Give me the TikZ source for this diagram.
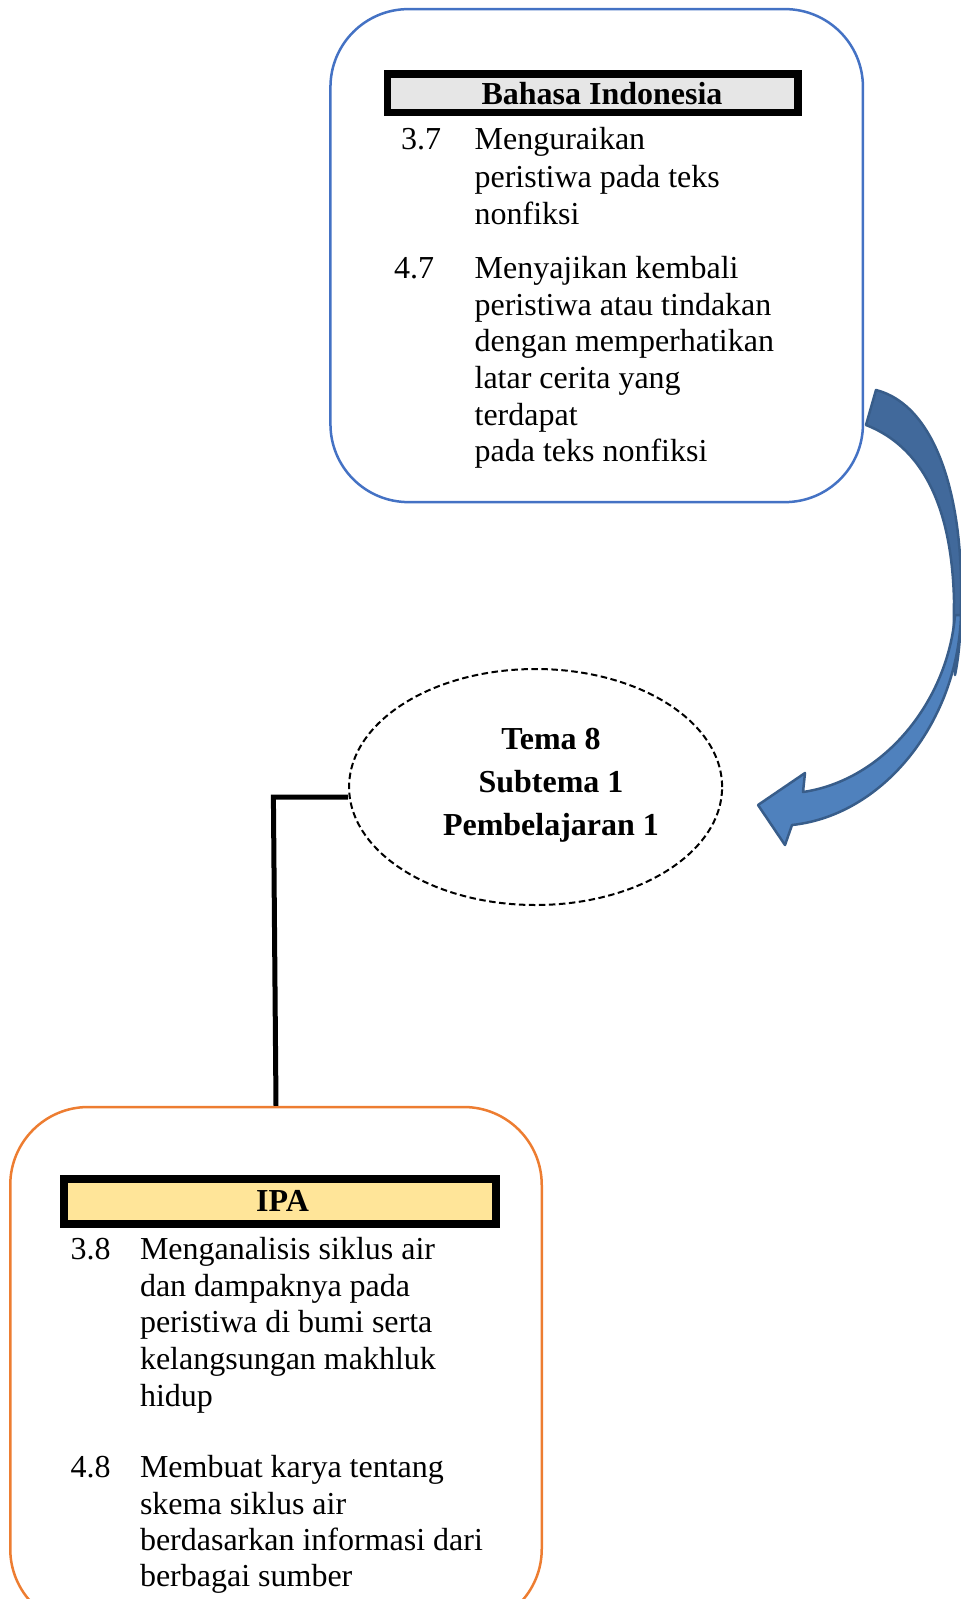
\documentclass[tikz,border=0pt]{standalone}
\usepackage{fontspec}
\setmainfont{Liberation Serif}
\usetikzlibrary{shapes.geometric}
\definecolor{bluebox}{HTML}{4472C4}
\definecolor{orangebox}{HTML}{ED7D31}
\definecolor{grayfill}{HTML}{E6E6E6}
\definecolor{yellowfill}{HTML}{FFE599}
\definecolor{arrowdark}{HTML}{41699B}
\definecolor{arrowlight}{HTML}{4F81BD}
\definecolor{arrowedge}{HTML}{385D8A}
\tikzset{
  subjbox/.style={draw, rounded corners=78pt, line width=2.5pt, inner sep=0pt},
  titlebar/.style={draw=black, line width=7.5pt, inner sep=0pt},
  body/.style={anchor=base west, inner sep=0pt, font=\fontsize{32}{37}\selectfont},
  bodytitle/.style={inner sep=0pt, font=\fontsize{32}{37}\selectfont\bfseries},
  joinline/.style={line width=5pt},
}
\begin{document}
\begin{tikzpicture}[x=1pt,y=-1pt]
\useasboundingbox (0,0) rectangle (961,1599);
\begin{scope}
\clip (0,0) rectangle (961,1599);

% Bahasa Indonesia box
\node[subjbox, draw=bluebox, minimum width=532.5pt, minimum height=493pt] (bi) at (596.7,255.6) {};
\path[titlebar, fill=grayfill] (387.3,74.1) rectangle (798.2,112.6);
\node[bodytitle] (bititle) at (602,94) {Bahasa Indonesia};
\node[body] (n37) at (401,149.9) {3.7};
\node[body] (b1) at (474.4,149.9) {Menguraikan};
\node[body] (b2) at (474.4,187.2) {peristiwa pada teks};
\node[body] (b3) at (474.4,224.4) {nonfiksi};
\node[body] (n47) at (394,278.5) {4.7};
\node[body] (b4) at (474.4,278.5) {Menyajikan kembali};
\node[body] (b5) at (474.4,315.2) {peristiwa atau tindakan};
\node[body] (b6) at (474.4,351.9) {dengan memperhatikan};
\node[body] (b7) at (474.4,388.7) {latar cerita yang};
\node[body] (b8) at (474.4,425.4) {terdapat};
\node[body] (b9) at (474.4,461.1) {pada teks nonfiksi};

% Curved arrow
\coordinate (tailtop) at (876,390);
\coordinate (tailbot) at (866,425);
\coordinate (tip) at (758,805);
\filldraw[fill=arrowdark, draw=arrowedge, line width=2.5pt, line join=round]
  (tailtop) .. controls (935,405) and (963,495) .. (961,600)
  .. controls (961,640) and (958,660) .. (955,675)
  .. controls (953,640) and (954,620) .. (954,600)
  .. controls (952,520) and (930,450) .. (tailbot) -- cycle;
\filldraw[fill=arrowlight, draw=arrowedge, line width=2.5pt, line join=round]
  (955,615) .. controls (948,700) and (885,780) .. (803,792)
  -- (805,773) -- (tip) -- (785,845) -- (792,825)
  .. controls (885,815) and (958,720) .. (961,615) -- cycle;

% Theme ellipse
\node[ellipse, draw, dashed, line width=2pt, dash pattern=on 6.5pt off 3.5pt,
      minimum width=373pt, minimum height=236pt, inner sep=0pt] (tema) at (535.6,787) {};
\node[bodytitle, align=center, font=\fontsize{32}{43}\selectfont\bfseries] (tematext) at (551,785.5)
  {Tema 8\\Subtema 1\\Pembelajaran 1};

% IPA box
\node[subjbox, draw=orangebox, minimum width=531.5pt, minimum height=520pt] (ipa) at (276,1367) {};
\path[titlebar, fill=yellowfill] (64.2,1179) rectangle (496,1224);
\node[bodytitle] (ipatitle) at (282.6,1201) {IPA};
\node[body] (n38) at (70.4,1259.4) {3.8};
\node[body] (c1) at (139.8,1259.4) {Menganalisis siklus air};
\node[body] (c2) at (139.8,1296.1) {dan dampaknya pada};
\node[body] (c3) at (139.8,1332.9) {peristiwa di bumi serta};
\node[body] (c4) at (139.8,1369.6) {kelangsungan makhluk};
\node[body] (c5) at (139.8,1406.3) {hidup};
\node[body] (n48) at (70.4,1477.7) {4.8};
\node[body] (c6) at (139.8,1477.7) {Membuat karya tentang};
\node[body] (c7) at (139.8,1514.4) {skema siklus air};
\node[body] (c8) at (139.8,1550.2) {berdasarkan informasi dari};
\node[body] (c9) at (139.8,1586.9) {berbagai sumber};

% Connector
\coordinate (elbow) at (273.4,797);
\draw[joinline] (elbow -| tema.west) -- (elbow) -- (ipa.north);
\end{scope}
\end{tikzpicture}
\end{document}
